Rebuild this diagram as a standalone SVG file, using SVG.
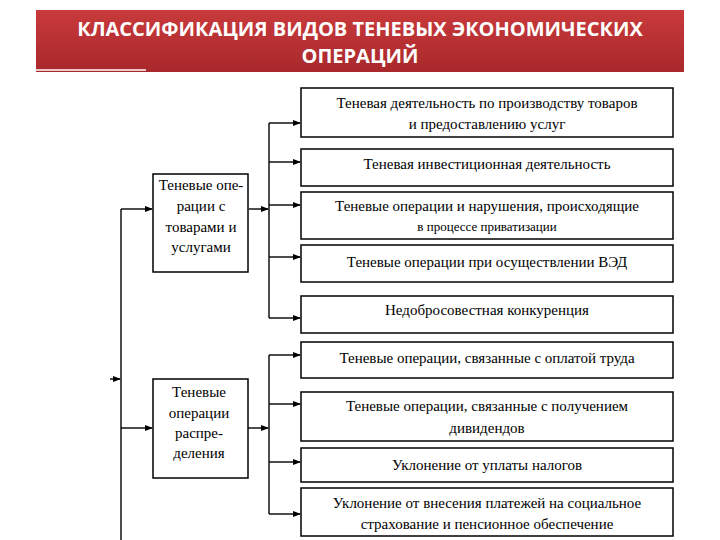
<svg xmlns="http://www.w3.org/2000/svg" width="720" height="540" viewBox="0 0 720 540">
<defs>
<linearGradient id="bg" x1="0" y1="0" x2="0" y2="1">
<stop offset="0" stop-color="#c93a3c"/>
<stop offset="1" stop-color="#a8282b"/>
</linearGradient>
<marker id="ar" viewBox="0 0 8 8" refX="7" refY="4" markerWidth="8" markerHeight="8" markerUnits="userSpaceOnUse" orient="auto">
<path d="M0,1 L8,4 L0,7 Z" fill="#000"/>
</marker>
</defs>
<style>
.box{fill:#fff;stroke:#000;stroke-width:1.5}
.t{font-family:"Liberation Serif","DejaVu Serif","Times New Roman",serif;font-size:15px;fill:#000;text-anchor:middle}
.s{font-size:13px}
.c{fill:none;stroke:#000;stroke-width:1.4}
.a{marker-end:url(#ar)}
.ttl{font-family:"Open Sans","Liberation Sans",sans-serif;font-weight:bold;font-size:20px;fill:#fff;text-anchor:middle}
</style>
<rect width="720" height="540" fill="#fff"/>
<g id="title">
<rect x="36" y="10" width="648" height="62" fill="url(#bg)"/>
<line x1="36" y1="70" x2="146" y2="70" stroke="#fff" stroke-width="1.5"/>
<text class="ttl" x="360" y="36">КЛАССИФИКАЦИЯ ВИДОВ ТЕНЕВЫХ ЭКОНОМИЧЕСКИХ</text>
<text class="ttl" x="360" y="63">ОПЕРАЦИЙ</text>
</g>
<g id="connectors">
<polyline class="c" points="121,540 121,209"/>
<line class="c a" x1="121" y1="209" x2="152" y2="209"/>
<line class="c a" x1="121" y1="428" x2="152" y2="428"/>
<line class="c a" x1="110" y1="379" x2="120" y2="379"/>
<line class="c a" x1="249" y1="209" x2="268" y2="209"/>
<line class="c a" x1="248" y1="428" x2="268" y2="428"/>
<line class="c" x1="269" y1="123" x2="269" y2="318"/>
<line class="c" x1="269" y1="355" x2="269" y2="514"/>
<line class="c a" x1="269" y1="123" x2="300" y2="123"/>
<line class="c a" x1="269" y1="162" x2="300" y2="162"/>
<line class="c a" x1="269" y1="205" x2="300" y2="205"/>
<line class="c a" x1="269" y1="257" x2="300" y2="257"/>
<line class="c a" x1="269" y1="318" x2="300" y2="318"/>
<line class="c a" x1="269" y1="355" x2="300" y2="355"/>
<line class="c a" x1="269" y1="404" x2="300" y2="404"/>
<line class="c a" x1="269" y1="462" x2="300" y2="462"/>
<line class="c a" x1="269" y1="514" x2="300" y2="514"/>
</g>
<g id="nodeA">
<rect class="box" x="153" y="174" width="95" height="98"/>
<text class="t" x="201" y="190">Теневые опе-</text>
<text class="t" x="201" y="211">рации с</text>
<text class="t" x="201" y="232">товарами и</text>
<text class="t" x="201" y="252">услугами</text>
</g>
<g id="nodeB">
<rect class="box" x="153" y="379" width="95" height="99"/>
<text class="t" x="199" y="397">Теневые</text>
<text class="t" x="199" y="418">операции</text>
<text class="t" x="199" y="438">распре-</text>
<text class="t" x="199" y="458">деления</text>
</g>
<g id="n1">
<rect class="box" x="301" y="88" width="372" height="49"/>
<text class="t" x="487" y="108">Теневая деятельность по производству товаров</text>
<text class="t" x="487" y="129">и предоставлению услуг</text>
</g>
<g id="n2">
<rect class="box" x="301" y="149" width="372" height="37"/>
<text class="t" x="487" y="169">Теневая инвестиционная деятельность</text>
</g>
<g id="n3">
<rect class="box" x="301" y="192" width="372" height="47"/>
<text class="t" x="487" y="211">Теневые операции и нарушения, происходящие</text>
<text class="t s" x="487" y="231">в процессе приватизации</text>
</g>
<g id="n4">
<rect class="box" x="301" y="245" width="372" height="37"/>
<text class="t" x="487" y="267">Теневые операции при осуществлении  ВЭД</text>
</g>
<g id="n5">
<rect class="box" x="301" y="296" width="372" height="37"/>
<text class="t" x="487" y="315">Недобросовестная конкуренция</text>
</g>
<g id="n6">
<rect class="box" x="301" y="342" width="372" height="36"/>
<text class="t" x="487" y="363">Теневые операции, связанные с оплатой труда</text>
</g>
<g id="n7">
<rect class="box" x="301" y="392" width="372" height="49"/>
<text class="t" x="487" y="411">Теневые операции, связанные с получением</text>
<text class="t" x="487" y="433">дивидендов</text>
</g>
<g id="n8">
<rect class="box" x="301" y="448" width="372" height="34"/>
<text class="t" x="487" y="470">Уклонение от уплаты налогов</text>
</g>
<g id="n9">
<rect class="box" x="301" y="488" width="372" height="48"/>
<text class="t" x="487" y="508">Уклонение от внесения платежей на социальное</text>
<text class="t" x="487" y="529">страхование  и  пенсионное обеспечение</text>
</g>
</svg>
